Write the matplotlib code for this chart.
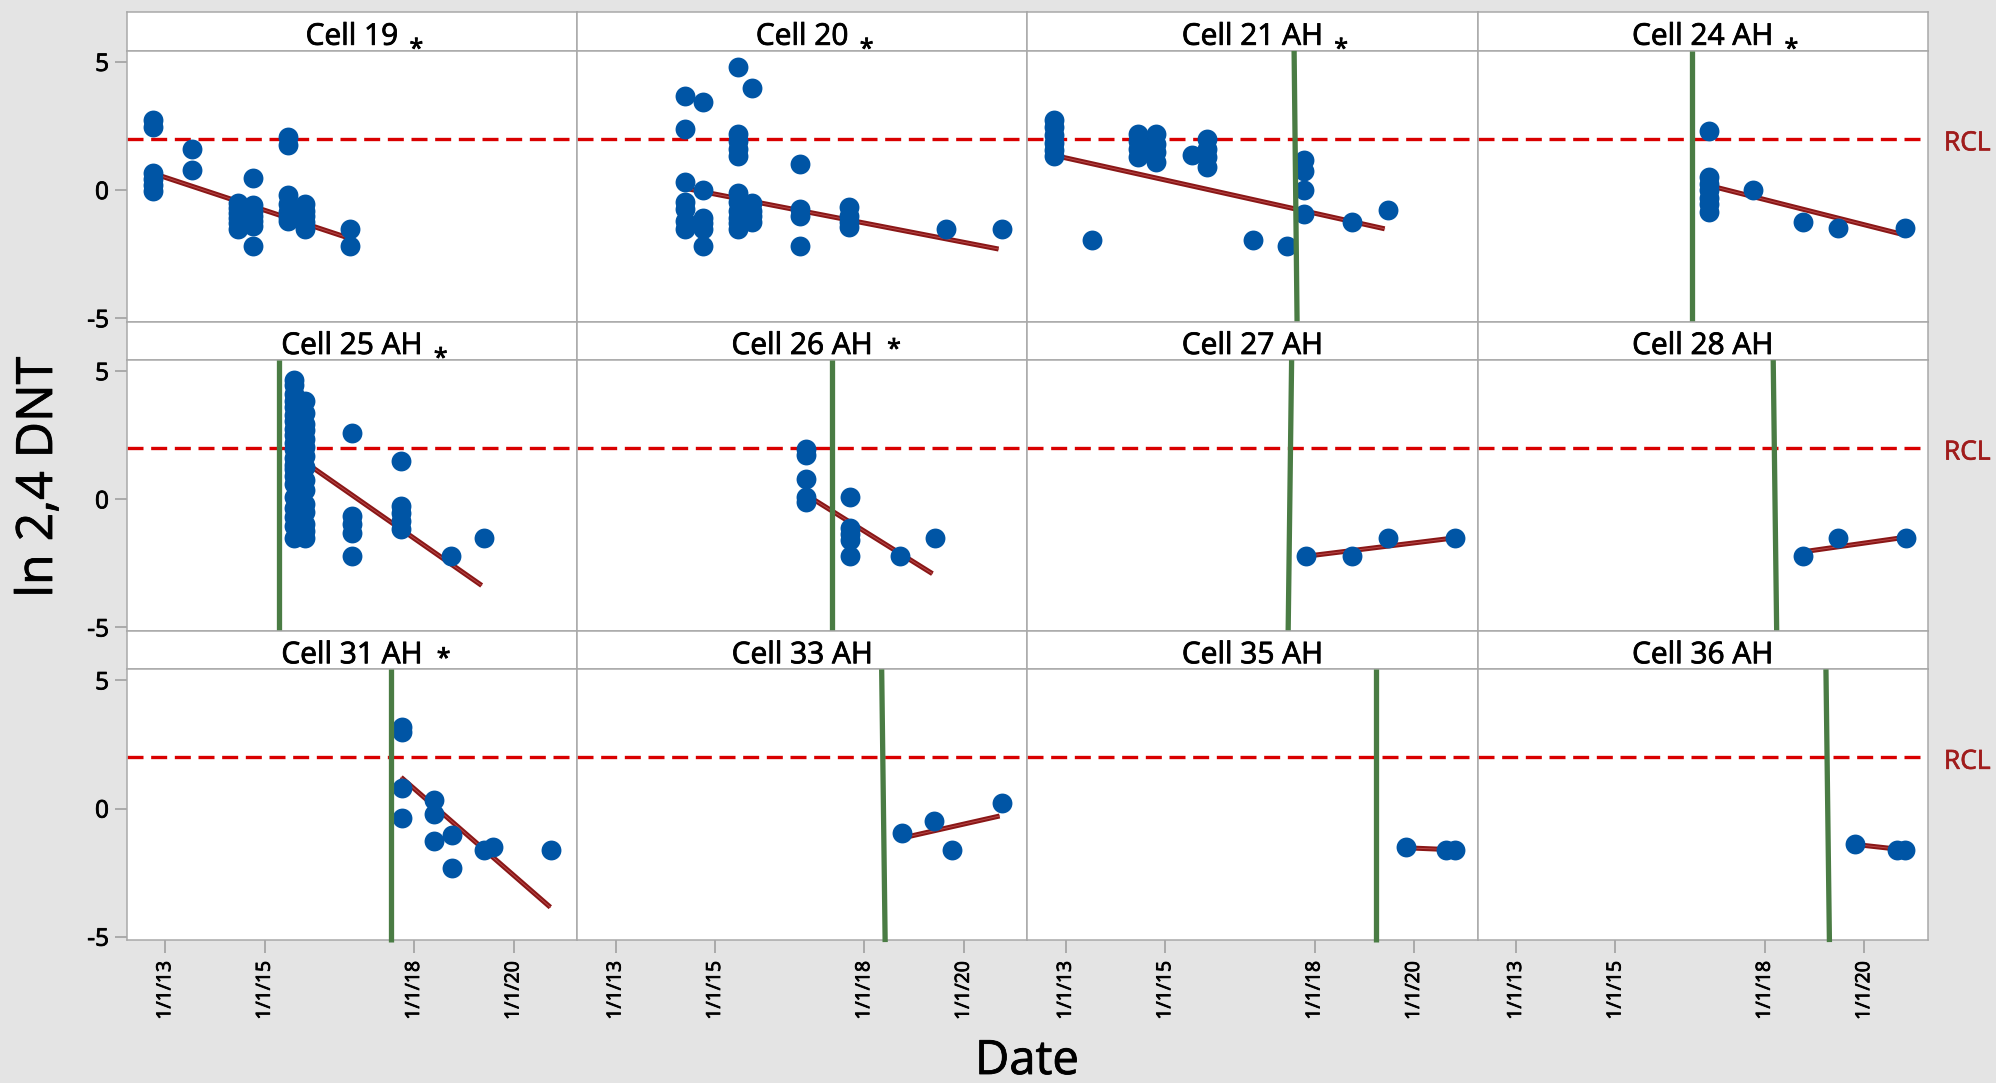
import matplotlib

matplotlib.use("Agg")
import matplotlib.pyplot as plt
import matplotlib.patheffects as pe
import matplotlib.transforms as mtransforms

plt.rcParams["font.family"] = ["Open Sans", "DejaVu Sans"]
plt.rcParams["axes.unicode_minus"] = False

# ---- data (dates as decimal years, values ln 2,4 DNT) ----
cells = ["Cell 19", "Cell 20", "Cell 21 AH", "Cell 24 AH",
         "Cell 25 AH", "Cell 26 AH", "Cell 27 AH", "Cell 28 AH",
         "Cell 31 AH", "Cell 33 AH", "Cell 35 AH", "Cell 36 AH"]
# asterisk after the name: "low" (baseline), "high" (normal), "" (none)
stars = ["low", "low", "low", "low", "low", "high", "", "", "high", "", "", ""]

c19_t = [2012.76, 2012.76, 2012.76, 2012.76, 2012.76, 2012.76, 2013.53, 2013.53,
         2014.47, 2014.47, 2014.47, 2014.47, 2014.47, 2014.47,
         2014.76, 2014.76, 2014.76, 2014.76, 2014.76, 2014.76, 2014.76,
         2015.47, 2015.47, 2015.47, 2015.47, 2015.47, 2015.47, 2015.47,
         2015.80, 2015.80, 2015.80, 2015.80, 2015.80, 2016.72, 2016.72]
c19_y = [2.75, 2.45, 0.65, 0.45, 0.2, -0.05, 1.6, 0.8,
         -0.5, -0.7, -0.9, -1.1, -1.3, -1.5,
         0.47, -0.6, -0.8, -1.0, -1.2, -1.4, -2.2,
         2.07, 1.75, -0.2, -0.55, -0.85, -1.05, -1.2,
         -0.55, -0.8, -1.0, -1.25, -1.5, -1.5, -2.2]

c20_t = [2014.40, 2014.40, 2014.40, 2014.40, 2014.40, 2014.40, 2014.40,
         2014.75, 2014.75, 2014.75, 2014.75, 2014.75, 2014.75,
         2015.46, 2015.46, 2015.46, 2015.46, 2015.46, 2015.46, 2015.46, 2015.46,
         2015.46, 2015.46, 2015.46,
         2015.75, 2015.75, 2015.75, 2015.75, 2015.75,
         2016.70, 2016.70, 2016.70, 2016.70,
         2017.70, 2017.70, 2017.70, 2017.70, 2019.65, 2020.76]
c20_y = [3.66, 2.39, 0.31, -0.45, -0.75, -1.2, -1.5,
         3.44, 0.0, -1.1, -1.3, -1.5, -2.2,
         4.8, 2.2, 1.9, 1.6, 1.35, -0.1, -0.45, -0.8, -1.1, -1.3, -1.5,
         4.0, -0.5, -0.8, -1.0, -1.25,
         1.02, -0.75, -1.0, -2.2,
         -0.65, -1.0, -1.25, -1.45, -1.5, -1.5]

c21_t = [2012.76, 2012.76, 2012.76, 2012.76, 2012.76, 2012.76, 2013.53,
         2014.46, 2014.46, 2014.46, 2014.46, 2014.82, 2014.82, 2014.82, 2014.82,
         2015.53, 2015.83, 2015.83, 2015.83, 2015.83, 2016.77, 2017.45,
         2017.79, 2017.79, 2017.79, 2017.79, 2018.76, 2019.48]
c21_y = [2.75, 2.45, 2.15, 1.85, 1.55, 1.35, -1.96,
         2.2, 1.9, 1.6, 1.3, 2.2, 1.8, 1.5, 1.1,
         1.38, 2.0, 1.6, 1.3, 0.9, -1.96, -2.2,
         1.16, 0.75, 0.0, -0.93, -1.25, -0.79]

c24_t = [2016.88, 2016.88, 2016.88, 2016.88, 2016.88, 2016.88, 2016.88,
         2017.76, 2018.76, 2019.48, 2020.82]
c24_y = [2.3, 0.5, 0.25, 0.0, -0.3, -0.55, -0.85, 0.0, -1.25, -1.48, -1.48]

c25_t = [2015.58, 2015.58, 2015.58, 2015.58, 2015.58, 2015.58, 2015.58,
         2015.58, 2015.58, 2015.58, 2015.58, 2015.58, 2015.58, 2015.58,
         2015.58, 2015.58, 2015.58, 2015.58, 2015.58, 2015.58, 2015.58,
         2015.80, 2015.80, 2015.80, 2015.80, 2015.80, 2015.80, 2015.80,
         2015.80, 2015.80, 2015.80, 2015.80, 2015.80, 2015.80, 2015.80, 2015.80,
         2016.75, 2016.75, 2016.75, 2016.75, 2016.75,
         2017.74, 2017.74, 2017.74, 2017.74, 2017.74, 2018.74, 2019.40]
c25_y = [4.65, 4.45, 4.1, 3.85, 3.6, 3.3, 3.05, 2.75, 2.5, 2.2, 1.95, 1.6, 1.35,
         1.2, 0.9, 0.6, 0.1, -0.35, -0.7, -1.05, -1.5,
         3.85, 3.35, 2.95, 2.7, 2.35, 2.05, 1.7, 1.25, 0.75, 0.35, -0.2, -0.5,
         -0.95, -1.25, -1.5,
         2.6, -0.65, -0.95, -1.3, -2.2,
         1.5, -0.25, -0.55, -0.85, -1.15, -2.2, -1.5]

c26_t = [2016.82, 2016.82, 2016.82, 2016.82, 2016.82,
         2017.71, 2017.71, 2017.71, 2017.71, 2017.71, 2018.72, 2019.42]
c26_y = [1.98, 1.72, 0.78, 0.1, -0.1, 0.1, -1.1, -1.35, -1.6, -2.2, -2.2, -1.5]

c27_t = [2017.83, 2018.76, 2019.48, 2020.82]
c27_y = [-2.2, -2.2, -1.5, -1.5]

c28_t = [2018.76, 2019.48, 2020.83]
c28_y = [-2.2, -1.5, -1.5]

c31_t = [2017.76, 2017.76, 2017.76, 2017.76, 2018.40, 2018.40, 2018.40,
         2018.76, 2018.76, 2019.40, 2019.59, 2020.76]
c31_y = [3.2, 3.0, 0.8, -0.35, 0.35, -0.2, -1.25, -1.03, -2.31, -1.62, -1.5, -1.6]

c33_t = [2018.76, 2019.40, 2019.77, 2020.77]
c33_y = [-0.94, -0.48, -1.62, 0.22]

c35_t = [2019.83, 2020.65, 2020.82]
c35_y = [-1.5, -1.62, -1.62]

c36_t = [2019.82, 2020.65, 2020.82]
c36_y = [-1.37, -1.62, -1.62]

sample_t = [c19_t, c20_t, c21_t, c24_t, c25_t, c26_t,
            c27_t, c28_t, c31_t, c33_t, c35_t, c36_t]
sample_y = [c19_y, c20_y, c21_y, c24_y, c25_y, c26_y,
            c27_y, c28_y, c31_y, c33_y, c35_y, c36_y]

# fitted trend: start date, start value, end date, end value
trend_t0 = [2012.76, 2014.40, 2012.76, 2016.88, 2015.60, 2016.82,
            2017.83, 2018.76, 2017.74, 2018.76, 2019.83, 2019.82]
trend_y0 = [0.65, 0.07, 1.36, 0.18, 1.73, 0.19, -2.22, -2.05, 1.22, -1.15, -1.53, -1.40]
trend_t1 = [2016.64, 2020.70, 2019.41, 2020.73, 2019.36, 2019.37,
            2020.75, 2020.75, 2020.74, 2020.72, 2020.70, 2020.75]
trend_y1 = [-1.84, -2.30, -1.51, -1.71, -3.36, -2.90, -1.52, -1.50, -3.85, -0.29, -1.60, -1.60]

# treatment marker (green line), date where it crosses top / bottom of panel
treat_top = [None, None, 2017.59, 2016.53, 2015.29, 2017.35,
             2017.54, 2018.17, 2017.53, 2018.35, 2019.23, 2019.23]
treat_bot = [None, None, 2017.65, 2016.53, 2015.29, 2017.35,
             2017.47, 2018.24, 2017.53, 2018.42, 2019.23, 2019.30]

rcl = 2.0
x_ticks = [2013.0, 2015.0, 2018.0, 2020.0]
x_ticklabels = ["1/1/13", "1/1/15", "1/1/18", "1/1/20"]
y_ticks = [-5, 0, 5]
y_ticklabels = ["-5", "0", "5"]

# ---- styling ----
BG = "#E4E4E4"
FRAME = "#A9A9A9"
BLUE = "#0055A5"
TREND = "#8A1717"
GREEN = "#4A7C44"
RCL_RED = "#D90000"
RCL_TXT = "#A01C1C"
# slightly heavier glyphs, closer to the screen font of the original
heavy = [pe.withStroke(linewidth=0.6, foreground="black")]
heavy_red = [pe.withStroke(linewidth=0.5, foreground=RCL_TXT)]

fig = plt.figure(figsize=(19.96, 10.83), dpi=100, facecolor=BG)
gs = fig.add_gridspec(6, 4, height_ratios=[38.5, 270, 38.5, 270, 38.5, 270],
                      left=0.0636, right=0.9659, top=0.9886, bottom=0.1320,
                      hspace=0, wspace=0)

for i, name in enumerate(cells):
    r, c = divmod(i, 4)
    strip = fig.add_subplot(gs[2 * r, c])
    ax = fig.add_subplot(gs[2 * r + 1, c])

    strip.set_facecolor("white")
    strip.set_xticks([])
    strip.set_yticks([])
    for sp in strip.spines.values():
        sp.set_color(FRAME)
        sp.set_linewidth(1.1)
    title = strip.text(0.5, 0.16, name, ha="center", va="baseline",
                       fontsize=21.5, color="black", transform=strip.transAxes,
                       path_effects=heavy)
    if stars[i]:
        dx, dy = (11, -5) if stars[i] == "low" else (14, 4)
        strip.annotate("*", xy=(1, 0), xycoords=title, xytext=(dx, dy),
                       textcoords="offset pixels", ha="left", va="baseline",
                       fontsize=18, color="black", path_effects=heavy)

    ax.set_facecolor("white")
    ax.set_xlim(2012.23, 2021.28)
    ax.set_ylim(-5.13, 5.43)
    for sp in ax.spines.values():
        sp.set_color(FRAME)
        sp.set_linewidth(1.1)

    ax.axhline(rcl, color=RCL_RED, lw=2.4, dashes=(4.8, 2.3), zorder=2)
    ax.plot([trend_t0[i], trend_t1[i]], [trend_y0[i], trend_y1[i]],
            color=TREND, lw=3.6, solid_capstyle="butt", zorder=3)
    ax.plot([trend_t0[i], trend_t1[i]], [trend_y0[i], trend_y1[i]],
            color="#B84848", lw=0.7, zorder=3)
    ax.plot(sample_t[i], sample_y[i], "o", color=BLUE, ms=14.3, mew=0, zorder=4)
    if treat_top[i] is not None:
        y0, y1 = ax.get_ylim()
        ax.plot([treat_top[i], treat_bot[i]], [y1, y0 - 0.08], color=GREEN,
                lw=3.8, solid_capstyle="butt", zorder=5, clip_on=False)

    ax.set_xticks(x_ticks)
    ax.set_yticks(y_ticks)
    ax.tick_params(direction="out", length=9, width=1.1, color="#9A9A9A")
    if c == 0:
        ax.set_yticklabels(y_ticklabels, fontsize=17.5, path_effects=heavy)
        ax.tick_params(axis="y", pad=4)
    else:
        ax.tick_params(axis="y", left=False, labelleft=False)
    if r == 2:
        ax.set_xticklabels(x_ticklabels, rotation=90, fontsize=14, path_effects=heavy)
        ax.tick_params(axis="x", pad=6)
    else:
        ax.tick_params(axis="x", bottom=False, labelbottom=False)

    if c == 3:
        trans = mtransforms.blended_transform_factory(ax.transAxes, ax.transData)
        ax.annotate("RCL", xy=(1, rcl), xycoords=trans, xytext=(16, -2),
                    textcoords="offset pixels", ha="left", va="center_baseline",
                    fontsize=19, color=RCL_TXT, annotation_clip=False,
                    path_effects=heavy_red)

fig.text(52 / 1996, 1 - 477 / 1083, "ln 2,4 DNT", rotation=90, rotation_mode="anchor",
         ha="center", va="baseline", fontsize=36, path_effects=heavy)
fig.text(1027 / 1996, 1 - 1074 / 1083, "Date", ha="center", va="baseline",
         fontsize=34, path_effects=heavy)

fig.savefig("out.png", dpi=100, facecolor=BG)
